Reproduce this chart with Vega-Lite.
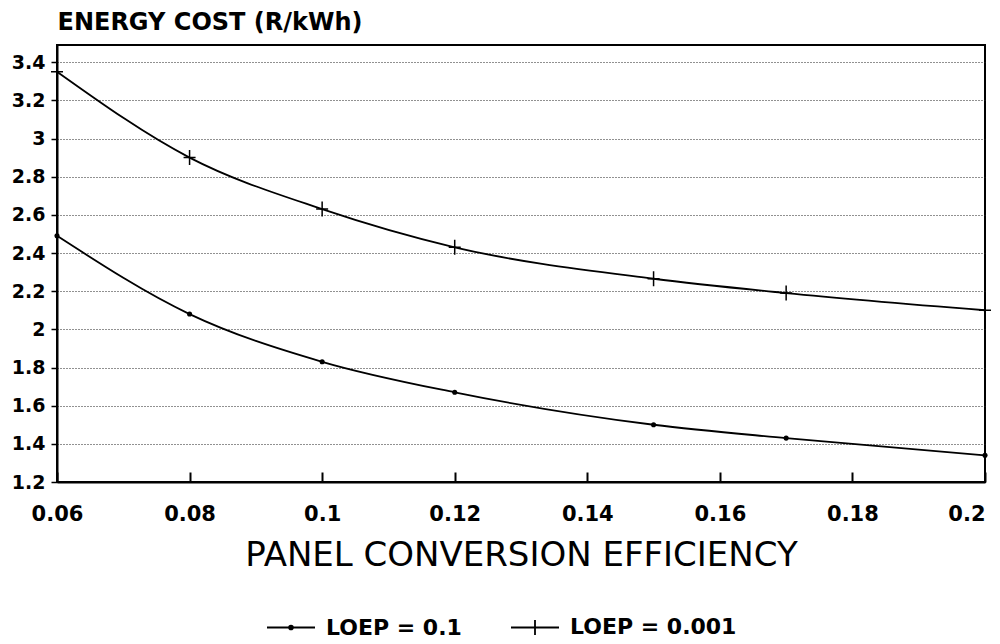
{
  "$schema": "https://vega.github.io/schema/vega-lite/v6.json",
  "width": 928,
  "height": 437,
  "autosize": "none",
  "padding": {"left": 57, "top": 45, "right": 15, "bottom": 162},
  "background": "white",
  "config": {
    "view": {"stroke": "black", "strokeWidth": 2},
    "font": "DejaVu Sans"
  },
  "data": {
    "values": [
      {"series": "LOEP = 0.1", "eff": 0.06, "cost": 2.49},
      {"series": "LOEP = 0.1", "eff": 0.08, "cost": 2.08},
      {"series": "LOEP = 0.1", "eff": 0.10, "cost": 1.83},
      {"series": "LOEP = 0.1", "eff": 0.12, "cost": 1.67},
      {"series": "LOEP = 0.1", "eff": 0.15, "cost": 1.50},
      {"series": "LOEP = 0.1", "eff": 0.17, "cost": 1.43},
      {"series": "LOEP = 0.1", "eff": 0.20, "cost": 1.34},
      {"series": "LOEP = 0.001", "eff": 0.06, "cost": 3.35},
      {"series": "LOEP = 0.001", "eff": 0.08, "cost": 2.90},
      {"series": "LOEP = 0.001", "eff": 0.10, "cost": 2.63},
      {"series": "LOEP = 0.001", "eff": 0.12, "cost": 2.43},
      {"series": "LOEP = 0.001", "eff": 0.15, "cost": 2.265},
      {"series": "LOEP = 0.001", "eff": 0.17, "cost": 2.19},
      {"series": "LOEP = 0.001", "eff": 0.20, "cost": 2.10}
    ]
  },
  "encoding": {
    "x": {
      "field": "eff",
      "type": "quantitative",
      "scale": {"domain": [0.06, 0.2], "nice": false, "zero": false},
      "axis": {
        "title": "PANEL CONVERSION EFFICIENCY",
        "titleFont": "DejaVu Sans",
        "titleFontSize": 34,
        "titleFontWeight": "normal",
        "titleColor": "black",
        "titlePadding": 14,
        "values": [0.06, 0.08, 0.1, 0.12, 0.14, 0.16, 0.18, 0.2],
        "format": "~g",
        "labelFont": "DejaVu Sans",
        "labelFontSize": 21,
        "labelFontWeight": "bold",
        "labelColor": "black",
        "labelPadding": 31,
        "labelFlush": false,
        "labelAlign": {"expr": "datum.value >= 0.2 ? 'right' : 'center'"},
        "tickSize": -10,
        "tickColor": "black",
        "tickWidth": 2,
        "domainColor": "black",
        "domainWidth": 2,
        "grid": false
      }
    },
    "y": {
      "field": "cost",
      "type": "quantitative",
      "scale": {"domain": [1.2, 3.49], "nice": false, "zero": false},
      "axis": {
        "title": "ENERGY COST (R/kWh)",
        "titleAngle": 0,
        "titleAlign": "left",
        "titleBaseline": "middle",
        "titleX": 0,
        "titleY": -23,
        "titleFont": "DejaVu Sans",
        "titleFontSize": 24,
        "titleFontWeight": "bold",
        "titleColor": "black",
        "values": [1.2, 1.4, 1.6, 1.8, 2, 2.2, 2.4, 2.6, 2.8, 3, 3.2, 3.4],
        "format": "~g",
        "labelFont": "DejaVu Sans",
        "labelFontSize": 19,
        "labelFontWeight": "bold",
        "labelColor": "black",
        "labelPadding": 6,
        "tickSize": 6,
        "tickColor": "black",
        "tickWidth": 1.5,
        "domainColor": "black",
        "domainWidth": 2,
        "grid": true,
        "gridColor": "#222222",
        "gridDash": [1, 2],
        "gridWidth": 1
      }
    }
  },
  "layer": [
    {
      "mark": {"type": "line", "interpolate": "monotone", "strokeWidth": 1.8},
      "encoding": {
        "color": {
          "field": "series",
          "type": "nominal",
          "sort": ["LOEP = 0.1", "LOEP = 0.001"],
          "scale": {"domain": ["LOEP = 0.1", "LOEP = 0.001"], "range": ["black", "black"]},
          "legend": {
            "title": null,
            "orient": "none",
            "direction": "horizontal",
            "legendX": 209,
            "legendY": 557,
            "labelFont": "DejaVu Sans",
            "labelFontSize": 22,
            "labelFontWeight": "bold",
            "labelColor": "black",
            "labelLimit": 400,
            "labelOffset": 10,
            "columnPadding": 45,
            "symbolSize": 2304,
            "symbolStrokeWidth": 1.8,
            "symbolStrokeColor": "black",
            "symbolFillColor": "black",
            "encode": {
              "symbols": {
                "update": {
                  "shape": {"signal": "datum.value === 'LOEP = 0.1' ? 'M-1,0L1,0M-0.08,0A0.08,0.08 0 1,0 0.08,0A0.08,0.08 0 1,0 -0.08,0' : 'M-1,0L1,0M0,-0.31L0,0.31'"},
                  "fill": {"value": "black"},
                  "stroke": {"value": "black"}
                }
              }
            }
          }
        }
      }
    },
    {
      "transform": [{"filter": "datum.series === 'LOEP = 0.1'"}],
      "mark": {"type": "point", "shape": "circle", "filled": true, "color": "black", "size": 26, "opacity": 1}
    },
    {
      "transform": [{"filter": "datum.series === 'LOEP = 0.001'"}],
      "mark": {"type": "point", "shape": "M0,-1L0,1M-0.8,0L0.8,0", "filled": false, "stroke": "black", "strokeWidth": 1.5, "size": 225, "opacity": 1}
    }
  ]
}
